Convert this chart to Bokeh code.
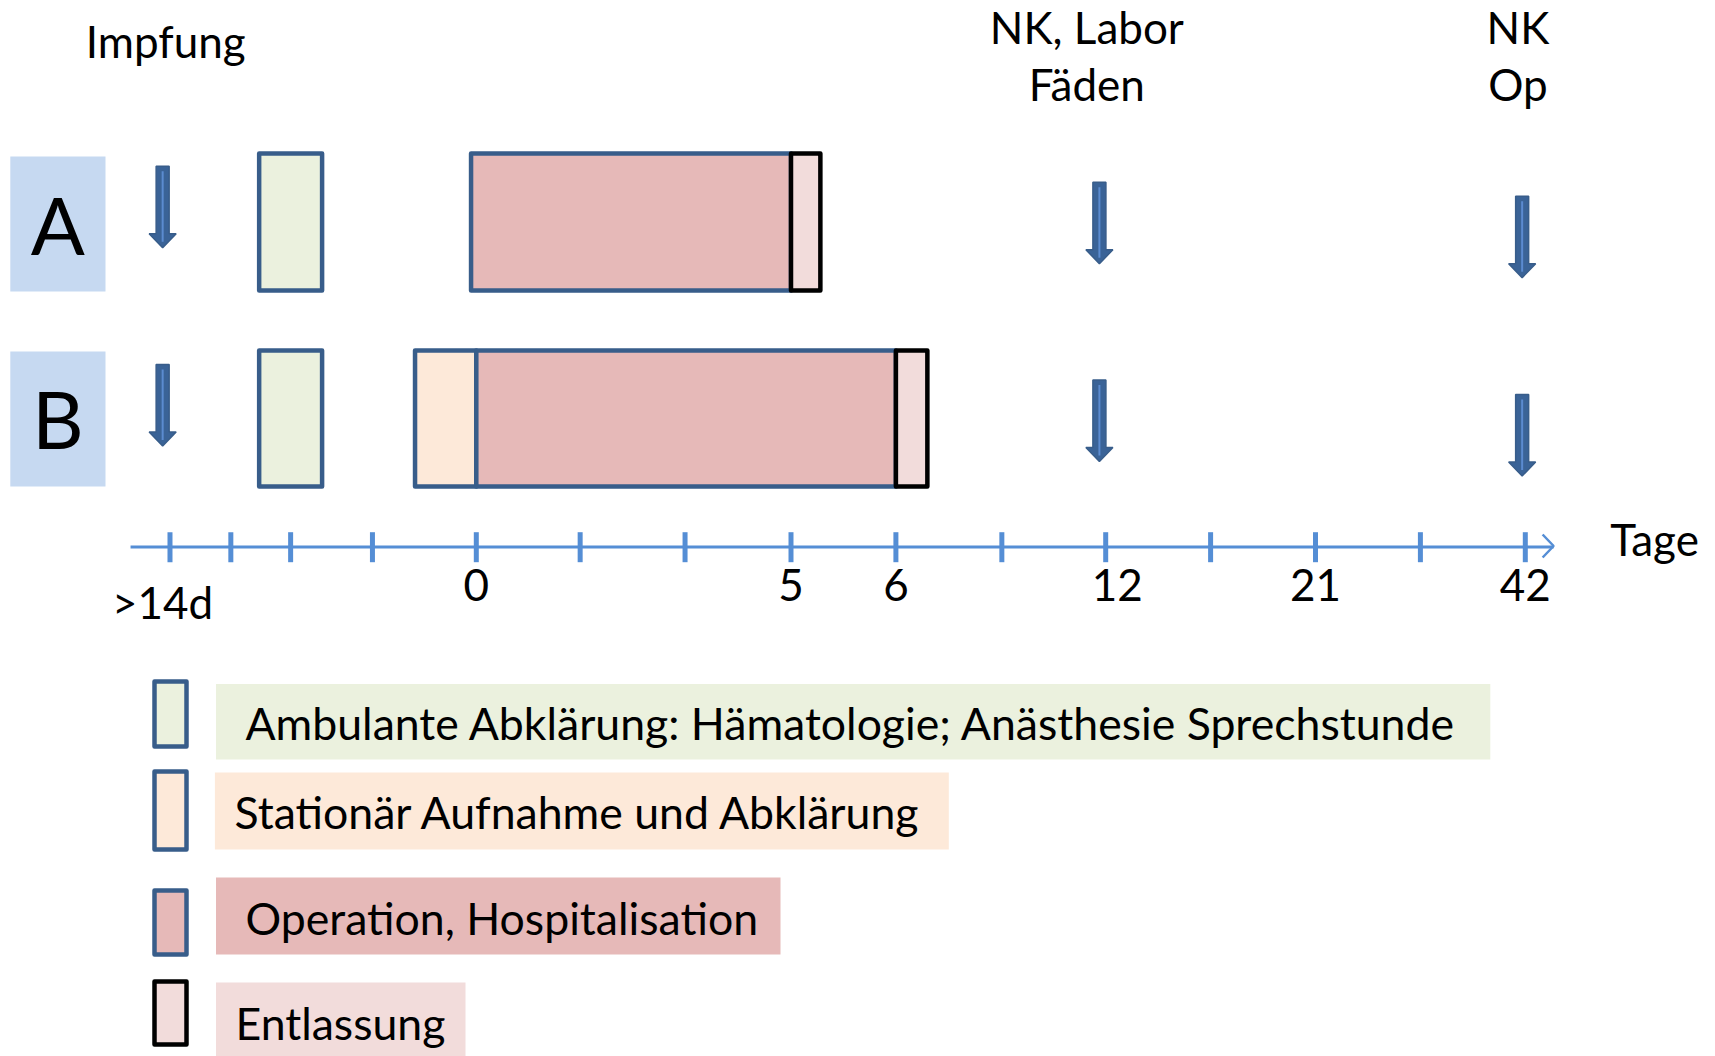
from bokeh.plotting import figure
from bokeh.models import Range1d
from bokeh.embed import file_html
from bokeh.resources import INLINE
from bokeh.core.properties import value

# ---------------- data ----------------
rows = ["A", "B"]
tick_pos = [-2.92, -2.34, -1.77, -0.99, 0, 0.99, 1.99, 3, 4, 5.01, 6, 7, 8, 9, 10]
tick_labels = [">14d", "", "", "", "0", "", "", "5", "6", "", "12", "", "21", "", "42"]

# phases per row (timeline units; 1 unit = one main tick step)
amb_center = [-1.77, -1.77]
amb_width = [0.6, 0.6]
stat_start = [None, -0.584]
stat_end = [None, 0.0]
op_start = [-0.05, 0.0]
op_end = [3.0, 4.0]
ent_start = [3.0, 4.0]
ent_end = [3.28, 4.3]

events = ["Impfung", "NK, Labor\nFäden", "NK\nOp"]
event_x = [-2.99, 5.94, 9.97]

legend_labels = [
    "Ambulante Abklärung: Hämatologie; Anästhesie Sprechstunde",
    "Stationär Aufnahme und Abklärung",
    "Operation, Hospitalisation",
    "Entlassung",
]

# ---------------- styles / layout ----------------
C_AMB = "#ebf1de"
C_STAT = "#fde9d9"
C_OP = "#e6b9b8"
C_ENT = "#f2dcdb"
C_ROW = "#c6d9f1"
C_EDGE = "#385d8a"
C_AXIS = "#558ed5"
C_ARROW = "#3a6397"
FONT = value("Lato")
BASE_CORR = 0.39     # em shift so that y is the alphabetic baseline

SC = 104.9          # px per timeline unit
X0PX = 475.8        # px of day 0
W, H = 1715, 1056

p = figure(width=W, height=H, output_backend="svg", toolbar_location=None,
           x_range=Range1d(-X0PX / SC, (W - X0PX) / SC),
           y_range=Range1d(H, 0), min_border=0, tools="")
p.extra_x_ranges = {"px": Range1d(0, W)}
p.axis.visible = False
p.grid.visible = False
p.outline_line_color = None
p.background_fill_color = "white"
p.border_fill_color = "white"


def base(ys, fs):
    return [y - BASE_CORR * fs for y in ys]


row_top = [153, 350]
row_bot = [290, 486]
row_lab_top = [156, 351]
row_lab_bot = [291, 486]

# row label boxes
p.quad(left=[9.8, 9.8], right=[105, 105], top=row_lab_top, bottom=row_lab_bot,
       fill_color=C_ROW, line_color=None, x_range_name="px")
p.text(x=[57.4, 57.4], y=base([255, 448.5], 80), text=rows, text_font=FONT,
       text_font_size="80px", text_align="center", text_baseline="alphabetic",
       text_color="black", x_range_name="px")

box_kw = dict(line_width=4.5, line_join="round")
# ambulant
p.quad(left=[c - w / 2 for c, w in zip(amb_center, amb_width)],
       right=[c + w / 2 for c, w in zip(amb_center, amb_width)],
       top=row_top, bottom=row_bot, fill_color=C_AMB, line_color=C_EDGE, **box_kw)
# stationär
si = [i for i, s in enumerate(stat_start) if s is not None]
p.quad(left=[stat_start[i] for i in si], right=[stat_end[i] for i in si],
       top=[row_top[i] for i in si], bottom=[row_bot[i] for i in si],
       fill_color=C_STAT, line_color=C_EDGE, **box_kw)
# operation
p.quad(left=op_start, right=op_end, top=row_top, bottom=row_bot,
       fill_color=C_OP, line_color=C_EDGE, **box_kw)
# entlassung
p.quad(left=ent_start, right=ent_end, top=row_top, bottom=row_bot,
       fill_color=C_ENT, line_color="black", **box_kw)

# event arrows
arrow_top = [[165.7, 181.7, 195.7], [364, 379.5, 394]]
arrow_len = 81.5
head_len = 14
sh, hh = 6.5 / SC, 13.5 / SC
axs, ays, cx0, cy0, cy1 = [], [], [], [], []
for r in range(2):
    for x, t in zip(event_x, arrow_top[r]):
        hs = t + arrow_len - head_len
        tip = t + arrow_len
        axs.append([x - sh, x + sh, x + sh, x + hh, x, x - hh, x - sh])
        ays.append([t, t, hs, hs, tip, hs, hs])
        cx0.append(x)
        cy0.append(t + 5)
        cy1.append(hs + 8)
p.patches(axs, ays, fill_color=C_ARROW, line_color="#385d8a", line_width=1.5)
p.segment(x0=cx0, y0=cy0, x1=cx0, y1=cy1, line_color="#5b8bd0", line_width=2)

# event labels
ev_lines_x, ev_lines_y, ev_lines_t = [], [], []
ev_base = [[58], [43.7, 100.6], [43.7, 100.6]]
ev_dx = [0.03, -0.12, -0.04]
for e, x, bases, dx in zip(events, event_x, ev_base, ev_dx):
    for line, b in zip(e.split("\n"), bases):
        ev_lines_x.append(x + dx)
        ev_lines_y.append(b)
        ev_lines_t.append(line)
p.text(x=ev_lines_x, y=base(ev_lines_y, 44), text=ev_lines_t, text_font=FONT,
       text_font_size="44px", text_align="center", text_baseline="alphabetic",
       text_color="black")

# timeline axis
ax_start, ax_end = -3.296, 10.27
p.line(x=[ax_start, ax_end], y=[546.5, 546.5], line_color=C_AXIS, line_width=3)
p.line(x=[ax_end - 11 / SC, ax_end, ax_end - 11 / SC], y=[534, 545.5, 557],
       line_color=C_AXIS, line_width=2.5)
p.segment(x0=tick_pos, y0=[531.7] * len(tick_pos), x1=tick_pos, y1=[561.7] * len(tick_pos),
          line_color=C_AXIS, line_width=5)
lab_x, lab_y, lab_t = [], [], []
for x, t in zip(tick_pos, tick_labels):
    if not t:
        continue
    dx = 0.0
    b = 602
    if t == ">14d":
        dx, b = -0.07, 619
    if t == "12":
        dx = 0.11
    lab_x.append(x + dx)
    lab_y.append(b)
    lab_t.append(t)
p.text(x=lab_x, y=base(lab_y, 44), text=lab_t, text_font=FONT, text_font_size="44px",
       text_align="center", text_baseline="alphabetic", text_color="black")
p.text(x=[10.81], y=base([556], 44), text=["Tage"], text_font=FONT, text_font_size="44px",
       text_align="left", text_baseline="alphabetic", text_color="black")

# legend
leg_fill = [C_AMB, C_STAT, C_OP, C_ENT]
leg_edge = [C_EDGE, C_EDGE, C_EDGE, "black"]
leg_box_top = [681, 771, 890, 981]
leg_box_bot = [746, 849, 954, 1044]
leg_bar_left = [215.5, 214.4, 215.5, 215.5]
leg_bar_right = [1489.8, 948.3, 780, 465]
leg_bar_top = [683.6, 772, 877, 982]
leg_bar_bot = [759, 849, 954, 1056]
leg_text_x = [245, 234, 245, 235]
leg_text_base = [739.4, 828, 934, 1039]
p.quad(left=leg_bar_left, right=leg_bar_right, top=leg_bar_top, bottom=leg_bar_bot,
       fill_color=leg_fill, line_color=None, x_range_name="px")
p.quad(left=[154] * 4, right=[186] * 4, top=leg_box_top, bottom=leg_box_bot,
       fill_color=leg_fill, line_color=leg_edge, line_width=4.5, line_join="round",
       x_range_name="px")
p.text(x=leg_text_x, y=base(leg_text_base, 44.6), text=legend_labels, text_font=FONT,
       text_font_size="44.6px", text_align="left", text_baseline="alphabetic",
       text_color="black", x_range_name="px")

open("out.html", "w").write(file_html(p, INLINE))
